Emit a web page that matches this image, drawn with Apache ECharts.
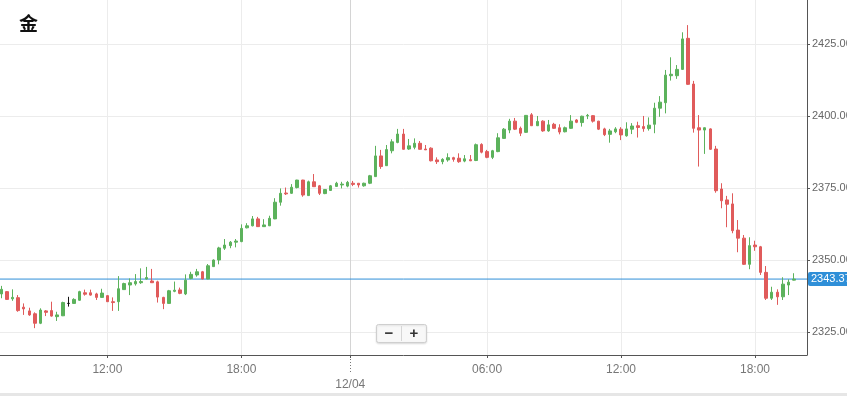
<!DOCTYPE html>
<html><head><meta charset="utf-8">
<script src="https://cdn.jsdelivr.net/npm/echarts@6/dist/echarts.min.js"></script>
<style>html,body{margin:0;padding:0;background:#fff}#c{width:847px;height:396px}</style>
</head><body><div id="c"></div>
<script>
const chartTitle = '金';
// [open, close, low, high] for each 15-minute candle
const ohlc = [
[2338.2,2339.8,2336.7,2341.0],[2339.0,2336.3,2336.1,2339.2],[2336.5,2337.0,2335.8,2339.8],[2336.9,2332.4,2332.0,2337.8],
[2333.6,2333.0,2330.9,2334.9],[2332.3,2330.9,2330.6,2333.4],[2331.3,2328.0,2326.3,2331.8],[2328.0,2332.6,2327.7,2333.2],
[2332.3,2331.8,2330.5,2332.6],[2332.4,2330.5,2330.3,2335.5],[2330.3,2330.9,2328.8,2332.0],[2330.6,2335.2,2330.5,2335.5],
[2334.9,2334.9,2333.8,2337.2],[2334.9,2336.3,2334.7,2336.7],[2336.0,2339.0,2335.8,2339.3],[2338.6,2338.1,2337.6,2339.7],
[2338.6,2337.8,2337.6,2339.7],[2338.2,2337.0,2336.1,2338.6],[2337.0,2338.5,2336.9,2340.0],[2337.6,2335.5,2335.4,2337.8],
[2335.5,2335.2,2332.3,2337.0],[2335.5,2340.0,2332.3,2344.4],[2339.7,2341.8,2339.6,2342.1],[2341.3,2342.1,2337.8,2343.6],
[2341.7,2342.5,2341.1,2345.1],[2342.1,2342.5,2341.7,2347.1],[2343.4,2343.9,2343.2,2347.6],[2342.7,2342.1,2342.0,2346.9],
[2342.4,2337.1,2335.2,2342.8],[2337.0,2334.9,2332.9,2337.2],[2334.9,2339.3,2334.7,2339.6],[2339.1,2339.5,2338.8,2342.5],
[2339.6,2338.4,2338.1,2340.4],[2338.2,2343.0,2337.8,2345.0],[2343.6,2345.0,2343.3,2345.9],[2344.8,2345.9,2344.2,2346.9],
[2345.9,2343.4,2343.3,2346.2],[2343.4,2348.0,2343.3,2348.6],[2347.7,2350.0,2347.6,2350.2],[2350.0,2354.2,2348.5,2354.6],
[2354.1,2355.2,2353.5,2357.3],[2355.0,2356.2,2354.1,2356.6],[2356.2,2356.6,2354.4,2357.3],[2356.4,2361.0,2356.2,2362.4],
[2361.2,2361.9,2361.0,2362.8],[2361.9,2364.3,2361.7,2365.3],[2364.3,2361.6,2361.5,2365.0],[2361.6,2362.2,2361.5,2364.2],
[2361.9,2364.5,2361.8,2365.4],[2364.3,2370.1,2364.2,2371.5],[2370.1,2373.2,2368.9,2374.9],[2373.3,2373.0,2372.6,2375.2],
[2373.2,2375.3,2373.0,2376.4],[2375.2,2377.8,2374.9,2377.9],[2377.8,2372.6,2372.0,2377.9],[2372.4,2377.2,2372.3,2377.6],
[2377.2,2375.5,2375.4,2379.9],[2375.8,2373.2,2372.6,2376.1],[2373.1,2374.5,2372.9,2374.7],[2374.2,2375.8,2374.1,2376.1],
[2375.6,2376.7,2375.4,2377.2],[2376.1,2376.4,2374.9,2377.2],[2375.7,2377.0,2375.3,2377.5],[2376.7,2376.3,2375.7,2377.5],
[2376.7,2376.1,2375.2,2376.7],[2375.8,2376.7,2375.5,2376.9],[2376.7,2379.3,2376.4,2379.6],[2379.0,2386.2,2378.9,2389.7],
[2386.2,2382.5,2381.7,2388.3],[2382.8,2388.4,2382.7,2390.0],[2388.0,2391.1,2387.1,2392.0],[2390.9,2393.8,2390.6,2395.6],
[2393.8,2388.5,2388.4,2395.6],[2388.6,2389.7,2388.3,2392.1],[2389.2,2390.6,2388.5,2392.3],[2390.6,2388.5,2388.4,2391.4],
[2388.6,2388.3,2388.3,2390.0],[2388.9,2384.5,2384.3,2389.2],[2384.8,2384.2,2383.4,2385.7],[2384.2,2385.0,2383.3,2385.4],
[2384.8,2385.6,2384.2,2387.1],[2385.6,2385.0,2384.2,2385.9],[2385.4,2384.2,2383.8,2387.1],[2384.4,2385.2,2384.0,2386.5],
[2384.9,2384.5,2384.4,2386.5],[2384.6,2390.1,2384.4,2390.5],[2390.2,2387.5,2387.1,2390.6],[2387.7,2385.7,2385.4,2388.3],
[2385.7,2388.0,2385.1,2388.3],[2387.7,2392.5,2387.5,2394.1],[2392.3,2395.5,2392.1,2395.9],[2395.2,2398.3,2394.1,2399.1],
[2398.3,2395.5,2395.2,2399.4],[2395.8,2394.1,2393.1,2396.4],[2394.4,2400.3,2394.2,2400.4],[2400.5,2396.7,2396.6,2401.1],
[2396.7,2398.2,2396.6,2400.1],[2398.3,2394.9,2394.6,2398.6],[2394.9,2397.0,2394.6,2398.7],[2397.2,2395.8,2395.6,2397.7],
[2396.0,2394.5,2393.7,2397.2],[2394.6,2396.0,2394.4,2396.4],[2395.8,2398.3,2395.6,2400.4],[2398.7,2397.9,2397.6,2399.0],
[2397.8,2400.0,2396.4,2400.2],[2400.1,2400.3,2399.0,2400.8],[2400.2,2398.3,2397.8,2400.4],[2398.3,2395.5,2395.2,2398.4],
[2395.6,2393.6,2393.1,2396.0],[2393.7,2394.9,2390.8,2395.6],[2394.6,2395.6,2394.1,2396.2],[2395.5,2393.5,2391.7,2396.2],
[2393.2,2395.6,2392.9,2397.9],[2395.5,2396.6,2393.8,2397.6],[2396.7,2396.1,2392.6,2398.1],[2396.4,2395.7,2394.6,2400.1],
[2395.7,2396.9,2395.0,2399.6],[2397.2,2402.8,2394.1,2404.7],[2402.8,2404.9,2399.8,2407.0],[2404.7,2414.3,2401.0,2416.1],
[2414.1,2414.6,2412.4,2420.5],[2414.1,2416.3,2413.0,2417.8],[2416.3,2426.9,2416.1,2429.2],[2427.1,2411.1,2410.9,2431.7],
[2411.2,2395.8,2394.3,2412.3],[2396.0,2395.2,2382.5,2400.4],[2395.2,2396.0,2386.9,2396.1],[2395.6,2388.5,2388.3,2395.8],
[2388.6,2374.1,2373.4,2389.7],[2374.7,2370.6,2368.0,2376.7],[2370.9,2369.4,2361.4,2372.3],[2369.5,2360.2,2359.3,2373.2],
[2360.4,2357.6,2352.7,2363.9],[2357.6,2348.5,2348.3,2358.7],[2348.5,2355.0,2346.8,2357.9],[2355.2,2354.6,2353.2,2356.7],
[2354.6,2345.7,2344.8,2354.9],[2345.7,2336.7,2336.1,2347.9],[2336.7,2338.8,2336.1,2340.7],[2338.8,2337.2,2334.4,2339.8],
[2337.2,2341.6,2336.1,2344.0],[2341.3,2342.3,2337.8,2343.3],[2343.0,2343.37,2342.9,2345.4]
];
const lastPrice = 2343.37;
const xTickIndex = [19, 43, 62.5, 87, 111, 135];
const xTickLabels = ['12:00', '18:00', '12/04', '06:00', '12:00', '18:00'];
const yTicks = [2325, 2350, 2375, 2400, 2425];
const blackDoji = [12];

const UP = '#5cb25c', DOWN = '#e05b5b', BLUE = '#2f8fd8';
const X_MIN = -0.25, X_MAX = 144.32;
const chart = echarts.init(document.getElementById('c'), null, {renderer: 'canvas'});
const seriesData = ohlc.map((d, i) => {
  const item = {value: [i, d[0], d[1], d[2], d[3]]};
  if (blackDoji.includes(i)) item.itemStyle = {color: '#111', color0: '#111', borderColor: '#111', borderColor0: '#111', borderColorDoji: '#111'};
  return item;
});
const FONT = 'Liberation Sans, Arial, sans-serif';
chart.setOption({
  animation: false,
  backgroundColor: '#fff',
  title: {text: chartTitle, left: 14, top: 9, textStyle: {fontSize: 19, fontWeight: 'bold', color: '#111', fontFamily: 'Noto Sans CJK SC'}},
  grid: {left: 0, right: 40, top: 0, bottom: 41, containLabel: false, outerBoundsMode: 'none'},
  xAxis: {
    type: 'value', min: X_MIN, max: X_MAX,
    axisLine: {show: true, onZero: false, lineStyle: {color: '#555'}},
    axisTick: {show: true, customValues: xTickIndex, length: 3, lineStyle: {color: '#555'}},
    axisLabel: {customValues: xTickIndex, color: '#777', fontSize: 12, fontFamily: FONT, margin: 7, lineHeight: 15,
      formatter: v => { const k = xTickIndex.findIndex(t => Math.abs(t - v) < 0.01); const s = k >= 0 ? xTickLabels[k] : ''; return k === 2 ? '\n' + s : s; }},
    splitLine: {show: true, lineStyle: {color: ['#ececec', '#ececec', '#d4d4d4', '#ececec', '#ececec', '#ececec']}}
  },
  yAxis: {
    type: 'value', position: 'right', min: 2316.96, max: 2440.43,
    axisLine: {show: true, onZero: false, lineStyle: {color: '#555'}},
    axisTick: {show: true, customValues: yTicks, length: 3, lineStyle: {color: '#555'}},
    axisLabel: {customValues: yTicks, color: '#666', fontSize: 11, fontFamily: FONT, margin: 5, formatter: v => v.toFixed(2)},
    splitLine: {show: true, lineStyle: {color: '#ececec'}}
  },
  series: [{
    type: 'candlestick', data: seriesData, barWidth: 3, z: 3,
    encode: {x: 0, y: [1, 2, 3, 4]},
    itemStyle: {color: UP, color0: DOWN, borderColor: UP, borderColor0: DOWN, borderWidth: 1}
  }, {
    type: 'line', name: 'last', z: 2, silent: true, clip: false,
    data: [[X_MIN, lastPrice], [X_MAX, lastPrice]],
    showSymbol: false, symbol: 'none',
    lineStyle: {color: BLUE, width: 1},
    itemStyle: {color: BLUE},
    emphasis: {disabled: true},
    endLabel: {show: true, distance: 1, formatter: () => lastPrice.toFixed(2), color: '#fff', backgroundColor: BLUE,
      padding: [2, 3, 1, 3], borderRadius: 2, fontSize: 11, fontFamily: FONT}
  }]
});
const dayX = chart.convertToPixel({xAxisIndex: 0}, xTickIndex[2]);
chart.setOption({
  graphic: [
    {type: 'line', shape: {x1: Math.round(dayX) + 0.5, y1: 356, x2: Math.round(dayX) + 0.5, y2: 374}, style: {stroke: '#777', lineWidth: 1, lineDash: [1, 2]}},
    {type: 'rect', shape: {x: 376.5, y: 324.5, width: 50, height: 18, r: 2}, style: {fill: '#f8f8f8', stroke: '#cfcfcf', lineWidth: 1, shadowBlur: 2, shadowColor: 'rgba(0,0,0,0.12)', shadowOffsetY: 1}},
    {type: 'line', shape: {x1: 401.5, y1: 326, x2: 401.5, y2: 341}, style: {stroke: '#d6d6d6', lineWidth: 1}},
    {type: 'text', style: {text: '−', x: 389, y: 333.5, align: 'center', verticalAlign: 'middle', font: 'bold 15px Liberation Sans, Arial', fill: '#333'}},
    {type: 'text', style: {text: '+', x: 414, y: 333.5, align: 'center', verticalAlign: 'middle', font: 'bold 15px Liberation Sans, Arial', fill: '#333'}},
    {type: 'rect', shape: {x: 0, y: 393, width: 847, height: 3}, style: {fill: '#e6e6e6'}}
  ]
});
</script></body></html>
